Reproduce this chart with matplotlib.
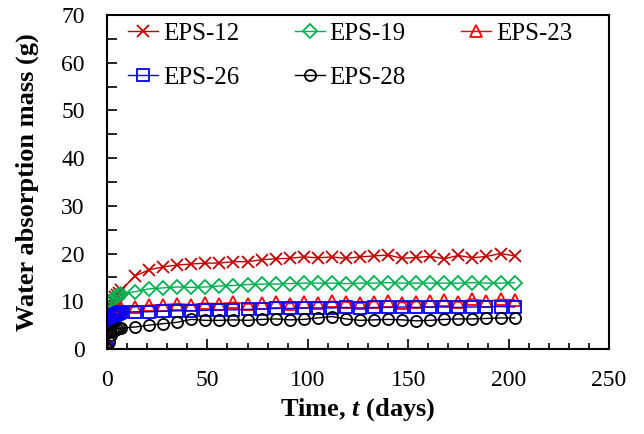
import matplotlib
matplotlib.use("Agg")
import matplotlib.pyplot as plt
from matplotlib.ticker import MultipleLocator

plt.rcParams["font.family"] = ["Liberation Serif", "DejaVu Serif"]
plt.rcParams["mathtext.fontset"] = "custom"
plt.rcParams["mathtext.it"] = "Liberation Serif:italic:bold"
plt.rcParams["mathtext.rm"] = "Liberation Serif:bold"

# days of measurement
days = [0, 1, 2, 3, 4, 5, 6, 7] + list(range(14, 204, 7))

eps12 = [0, 6.5, 9.0, 10.2, 10.8, 11.3, 11.8, 12.3,
         15.3, 16.6, 17.2, 17.6, 17.8, 18.0, 18.0, 18.3, 18.3, 18.7,
         18.9, 19.0, 19.3, 19.1, 19.3, 19.0, 19.3, 19.5, 19.7, 19.0,
         19.2, 19.4, 18.9, 19.6, 19.1, 19.4, 20.0, 19.5]
eps19 = [0, 5.0, 10.0, 10.5, 10.8, 11.0, 11.3, 11.5,
         12.0, 12.6, 12.8, 13.0, 12.9, 13.0, 13.2, 13.3, 13.5, 13.6,
         13.6, 13.7, 13.8, 13.8, 13.8, 13.7, 13.8, 13.8, 13.9, 13.8,
         13.8, 13.8, 13.8, 13.8, 13.9, 13.8, 13.8, 13.9]
eps23 = [0, 3.5, 6.0, 7.0, 7.5, 8.0, 8.3, 8.5,
         8.8, 9.2, 9.3, 9.5, 9.3, 9.6, 9.5, 9.8, 9.4, 9.6,
         9.8, 9.5, 9.9, 9.7, 10.0, 9.8, 9.6, 9.9, 10.1, 9.7,
         9.9, 10.0, 10.2, 9.8, 10.5, 10.0, 10.4, 10.3]
eps26 = [0, 4.0, 6.0, 6.8, 7.2, 7.4, 7.6, 7.7,
         7.8, 7.8, 7.9, 8.0, 8.0, 8.1, 8.2, 8.2, 8.3, 8.4,
         8.5, 8.5, 8.6, 8.6, 8.6, 8.7, 8.6, 8.7, 8.7, 8.8,
         8.7, 8.8, 8.8, 8.7, 8.8, 8.8, 8.9, 8.8]
eps28 = [0, 1.5, 3.0, 3.8, 4.0, 4.2, 4.3, 4.4,
         4.6, 5.0, 5.3, 5.6, 6.2, 6.0, 6.0, 6.1, 6.0, 6.2,
         6.3, 6.1, 6.2, 6.5, 6.8, 6.3, 6.0, 6.1, 6.2, 6.1,
         5.9, 6.0, 6.2, 6.3, 6.3, 6.4, 6.5, 6.5]

series = [
    ("EPS-12", eps12, "x", "#C00000"),
    ("EPS-19", eps19, "D", "#00B050"),
    ("EPS-23", eps23, "^", "#FF0000"),
    ("EPS-26", eps26, "s", "#0000FF"),
    ("EPS-28", eps28, "o", "black"),
]

fig = plt.figure(figsize=(6.44, 4.34), dpi=100)
ax = fig.add_axes([0.1661, 0.1959, 0.7795, 0.7696])

handles = {}
for name, vals, mk, col in series:
    ms = 7 if mk == "D" else 8
    (h,) = ax.plot(days, vals, marker=mk, color=col, lw=1.0, ms=ms,
                   mfc="none", mec=col, mew=1.3, label=name)
    handles[name] = h

ax.set_xlim(0, 250)
ax.set_ylim(0, 70)
ax.xaxis.set_major_locator(MultipleLocator(50))
ax.xaxis.set_minor_locator(MultipleLocator(10))
ax.yaxis.set_major_locator(MultipleLocator(10))
ax.yaxis.set_minor_locator(MultipleLocator(5))
ax.tick_params(which="both", direction="in", labelsize=17, width=1.2)
ax.tick_params(axis="x", which="both", pad=15)
ax.tick_params(axis="y", which="both", pad=16)
ax.tick_params(which="major", length=7)
ax.tick_params(which="minor", length=4)
ax.tick_params(axis="y", which="minor", length=7)
for s in ax.spines.values():
    s.set_linewidth(1.5)

ax.set_xlabel("Time, $\\mathit{t}$ (days)", fontsize=19, fontweight="bold")
ax.set_ylabel("Water absorption mass (g)", fontsize=19, fontweight="bold")
ax.xaxis.set_label_coords(0.5, -0.14)
ax.yaxis.set_label_coords(-0.135, 0.5)

order = ["EPS-12", "EPS-26", "EPS-19", "EPS-28", "EPS-23"]
ax.legend([handles[n] for n in order], order, ncol=3, frameon=False,
          fontsize=18, loc="upper left", bbox_to_anchor=(-0.002, 1.045),
          handlelength=1.2, handletextpad=0.2, columnspacing=2.2,
          labelspacing=0.85)

fig.savefig("out.png", dpi=100)
